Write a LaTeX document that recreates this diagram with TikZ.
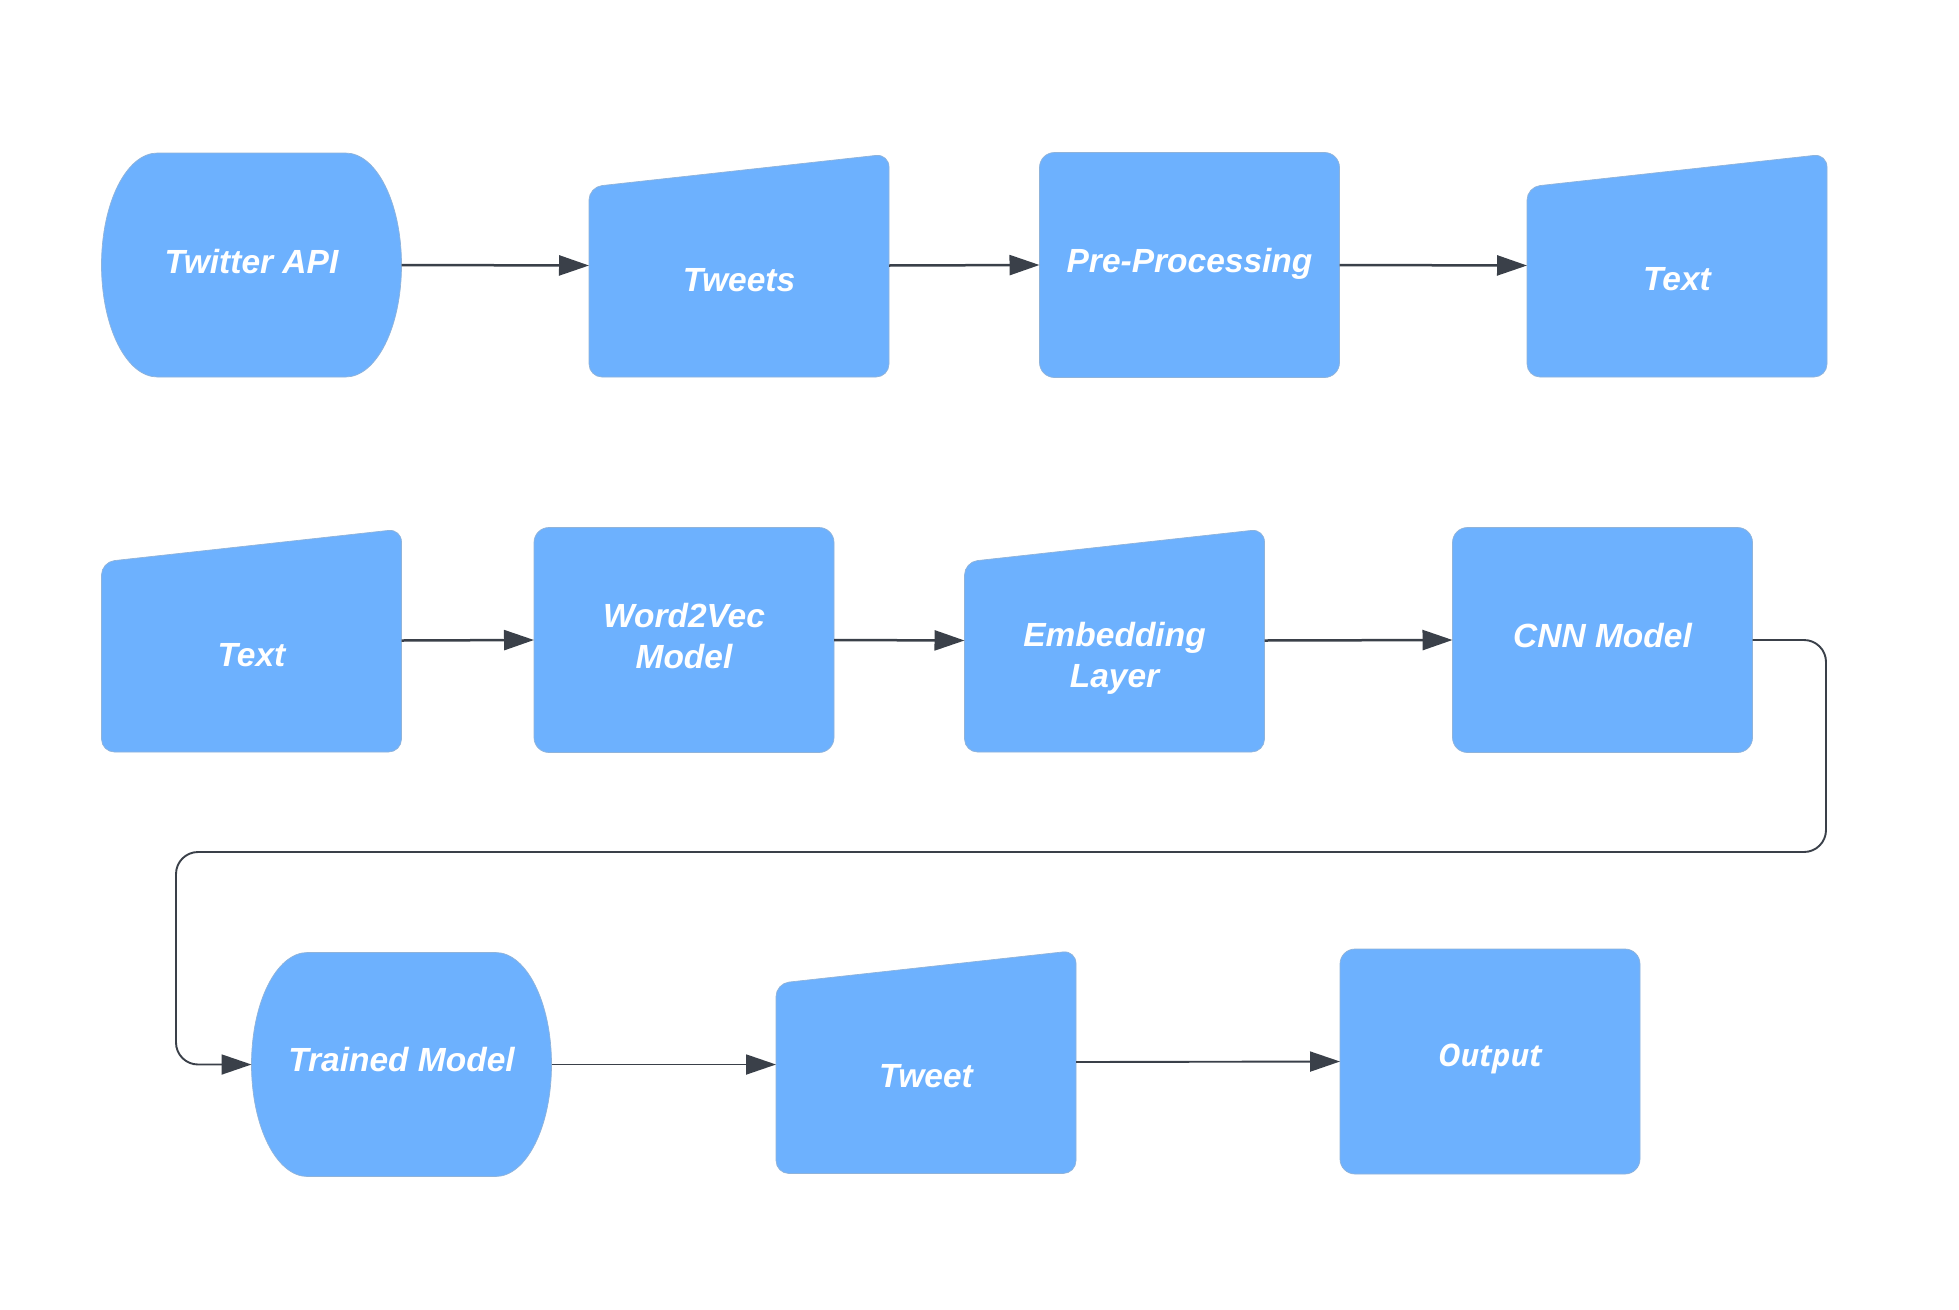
\documentclass[tikz,border=0pt]{standalone}
\usepackage{fontspec}
\setmainfont{Liberation Sans}
\newfontfamily\opensansfont{Open Sans}
\usetikzlibrary{arrows.meta}
\definecolor{boxblue}{HTML}{6DB1FE}
\definecolor{boxedge}{HTML}{8FB3DA}
\definecolor{linec}{HTML}{3A4049}
\newcommand\lbfont{\fontsize{33.5}{40}\selectfont\bfseries\itshape}
\newcommand\stadshape[3]{%
  \begin{scope}[shift={(#2,#3)}]
    \path[blk] (-94,-112) -- (94,-112) .. controls (125,-112) and (150,-62) .. (150,0)
      .. controls (150,62) and (125,112) .. (94,112) -- (-94,112)
      .. controls (-125,112) and (-150,62) .. (-150,0)
      .. controls (-150,-62) and (-125,-112) .. (-94,-112) -- cycle;
    \node[hold, minimum height=224pt] (#1) at (0,0) {};
  \end{scope}}
\newcommand\trapshape[3]{%
  \begin{scope}[shift={(#2,#3)}]
    \path[blk, rounded corners=13pt] (0,111.5) -- (-150,111.5) -- (-150,-78.5) -- (150,-111.5) -- (150,111.5) -- cycle;
    \node[hold, minimum height=223pt] (#1) at (0,0) {};
  \end{scope}}
\tikzset{
  blk/.style={fill=boxblue, draw=boxedge, line width=0.7pt},
  hold/.style={minimum width=300pt, inner sep=0pt, outer sep=0pt},
  rectbox/.style={blk, rounded corners=15pt, minimum width=300pt, minimum height=225pt, inner sep=0pt, outer sep=0pt},
  lbl/.style={text=white, font=\lbfont, anchor=base, inner sep=0pt},
  flow/.style={draw=linec, line width=2.5pt, -{Triangle[length=30pt,width=20pt]}},
  flowthin/.style={draw=linec, line width=1.9pt, -{Triangle[length=30pt,width=20pt]}},
}
\begin{document}
\begin{tikzpicture}[x=1pt,y=-1pt]
\useasboundingbox (0,0) rectangle (1959,1309);
\fill[white] (0,0) rectangle (1959,1309);

% Row 1
\stadshape{api}{251.5}{265}
\trapshape{tweets}{739}{265.5}
\node[rectbox] (pre) at (1189.5,265) {};
\trapshape{textA}{1677}{265.5}

% Row 2
\trapshape{textB}{251.5}{640.5}
\node[rectbox] (wtv) at (684,640) {};
\trapshape{emb}{1114.5}{640.5}
\node[rectbox] (cnn) at (1602.5,640) {};

% Row 3
\stadshape{trained}{401.5}{1064.5}
\trapshape{tweet}{926}{1062}
\node[rectbox] (outp) at (1490,1061.5) {};

% Labels
\node[lbl] (lapi) at (251.5,273) {Twitter API};
\node[lbl] (ltweets) at (739,291) {Tweets};
\node[lbl] (lpre) at (1189.5,272) {Pre-Processing};
\node[lbl] (ltextA) at (1677,290) {Text};
\node[lbl] (ltextB) at (251.5,666) {Text};
\node[lbl] (lwtv1) at (684,627) {Word2Vec};
\node[lbl] (lwtv2) at (684,668) {Model};
\node[lbl] (lemb1) at (1114.5,646) {Embedding};
\node[lbl] (lemb2) at (1114.5,687) {Layer};
\node[lbl] (lcnn) at (1602.5,647) {CNN Model};
\node[lbl] (ltrained) at (401.5,1071) {Trained Model};
\node[lbl] (ltweet) at (926,1087) {Tweet};
\node[lbl, font=\fontsize{31}{38}\selectfont\opensansfont\bfseries\itshape] (loutp) at (1490,1066) {Output};

% Connectors
\draw[flow] (api.east) -- (tweets.west);
\draw[flow] (tweets.east) -- (pre.west);
\draw[flow] (pre.east) -- (textA.west);
\draw[flow] (textB.east) -- (wtv.west);
\draw[flow] (wtv.east) -- (emb.west);
\draw[flow] (emb.east) -- (cnn.west);
\coordinate (c1) at (1826,852);
\coordinate (c2) at (176,852);
\draw[flowthin, rounded corners=22pt] (cnn.east) -| (c1) -- (c2) |- (trained.west);
\draw[flowthin] (trained.east) -- (trained.east -| tweet.west);
\draw[flowthin] (tweet.east) -- (outp.west);
\end{tikzpicture}
\end{document}
